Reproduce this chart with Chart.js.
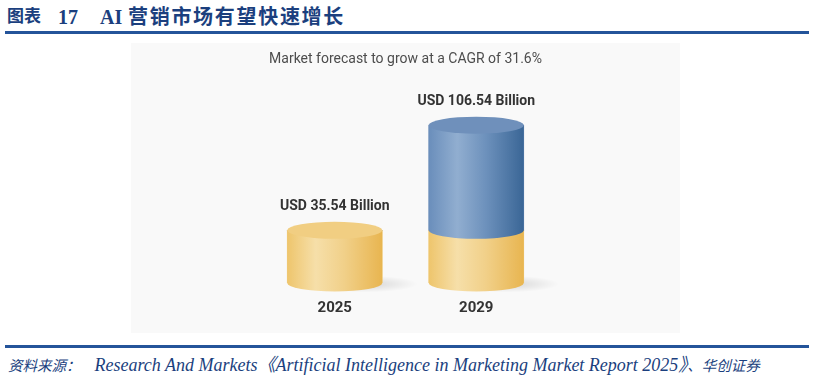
<!DOCTYPE html>
<html>
<head>
<meta charset="utf-8">
<title>AI营销市场有望快速增长</title>
<script src="https://cdn.jsdelivr.net/npm/chart.js@4.4.1/dist/chart.umd.min.js"></script>
<style>
  body {margin: 0; width: 814px; height: 379px; background: #fff; position: relative; overflow: hidden;}
  .head {position: absolute; top: 5px; font-family: "Liberation Serif", "Noto Sans CJK SC"; font-weight: bold; font-size: 20px; line-height: 24px; color: #1b3f7e; white-space: nowrap;}
  .rule {position: absolute; left: 5px; width: 804px; height: 3px; background: #24549a;}
  .panel {position: absolute; left: 131px; top: 43px; width: 549px; height: 290px; background: #f9f9f9;}
  #myChart {position: absolute; left: 131px; top: 43px;}
  .src {position: absolute; left: 8px; top: 353px; font-family: "Liberation Serif", "Noto Sans CJK SC"; font-style: italic; font-size: 18px; line-height: 24px; color: #1b3f7e; white-space: nowrap;}
  .src .cjk {font-size: 14.5px;}
</style>
</head>
<body>
  <div class="head" style="left:7px;font-size:17px">图表</div>
  <div class="head" style="left:58px">17</div>
  <div class="head" style="left:100px">AI</div>
  <div class="head" style="left:128px;letter-spacing:1.7px">营销市场有望快速增长</div>
  <div class="rule" style="top:31px"></div>
  <div class="panel"></div>
  <canvas id="myChart" width="549" height="290"></canvas>
  <div class="rule" style="top:345px"></div>
  <div class="src"><span class="cjk" style="margin-right:14px">资料来源：</span>Research And Markets《Artificial Intelligence in Marketing Market Report 2025》<span class="cjk">、华创证券</span></div>
<script>
const years = ['2025', '2029'];
const baseValues = [35.54, 35.54];      // 2025 market size, repeated as the lower part of 2029
const growthValues = [0, 71.00];        // added by 2029 (106.54 - 35.54)
const totalLabels = ['USD 35.54 Billion', 'USD 106.54 Billion'];

const yellow = {stops: ['#eec56c', '#f6dfa9', '#f1d089', '#e8b550'], top: '#f1ce82'};
const blue = {stops: ['#6a8ebb', '#91aed0', '#6d91bc', '#3a6696'], top: '#6f90bb'};
const RY = 8.5;

function bodyGradient(ctx, left, w, pal) {
  const g = ctx.createLinearGradient(left, 0, left + w, 0);
  g.addColorStop(0, pal.stops[0]);
  g.addColorStop(0.3, pal.stops[1]);
  g.addColorStop(0.6, pal.stops[2]);
  g.addColorStop(1, pal.stops[3]);
  return g;
}

const cylinders = {
  id: 'cylinders',
  beforeDatasetsDraw(chart) {
    const ctx = chart.ctx;
    const meta = chart.getDatasetMeta(0);
    meta.data.forEach(el => {
      const p = el.getProps(['x', 'base', 'width'], true);
      const cx = p.x + p.width * 0.32, cy = p.base + 1;
      ctx.save();
      ctx.translate(cx, cy);
      ctx.scale(1, 0.16);
      const g = ctx.createRadialGradient(0, 0, 0, 0, 0, p.width * 0.55);
      g.addColorStop(0, 'rgba(0,0,0,0.14)');
      g.addColorStop(1, 'rgba(0,0,0,0)');
      ctx.fillStyle = g;
      ctx.beginPath();
      ctx.arc(0, 0, p.width * 0.55, 0, Math.PI * 2);
      ctx.fill();
      ctx.restore();
    });
  },
  afterDatasetsDraw(chart) {
    const ctx = chart.ctx;
    const pals = [yellow, blue];
    const tops = [];
    chart.data.datasets.forEach((ds, di) => {
      const meta = chart.getDatasetMeta(di);
      meta.data.forEach((el, i) => {
        if (!ds.data[i]) return;
        const p = el.getProps(['x', 'y', 'base', 'width'], true);
        const w = p.width, left = p.x - w / 2;
        ctx.save();
        ctx.fillStyle = bodyGradient(ctx, left, w, pals[di]);
        ctx.beginPath();
        ctx.moveTo(left, p.y);
        ctx.lineTo(left, p.base);
        ctx.ellipse(p.x, p.base, w / 2, RY, 0, Math.PI, 0, true);
        ctx.lineTo(left + w, p.y);
        ctx.closePath();
        ctx.fill();
        ctx.restore();
        tops[i] = {x: p.x, y: p.y, w: w, pal: pals[di]};
      });
    });
    tops.forEach((t, i) => {
      ctx.save();
      ctx.fillStyle = t.pal.top;
      ctx.beginPath();
      ctx.ellipse(t.x, t.y, t.w / 2, RY, 0, 0, Math.PI * 2);
      ctx.fill();
      ctx.fillStyle = '#333333';
      ctx.font = 'bold 14px Roboto';
      ctx.textAlign = 'center';
      ctx.textBaseline = 'middle';
      ctx.fillText(totalLabels[i], t.x, t.y - RY - 15);
      ctx.restore();
    });
  }
};

const chart = new Chart(document.getElementById('myChart'), {
  type: 'bar',
  data: {
    labels: years,
    datasets: [
      {label: 'Base', data: baseValues, backgroundColor: yellow.top, barThickness: 95},
      {label: 'Growth', data: growthValues, backgroundColor: blue.top, barThickness: 95}
    ]
  },
  options: {
    responsive: false,
    animation: false,
    layout: {padding: {left: 133, right: 133, top: 0, bottom: 0}},
    plugins: {
      legend: {display: false},
      tooltip: {enabled: false},
      title: {
        display: true,
        text: 'Market forecast to grow at a CAGR of 31.6%',
        color: '#4d4d4d',
        font: {family: 'Roboto', size: 14, weight: 'normal'},
        padding: {top: 8, bottom: 30}
      }
    },
    scales: {
      x: {
        stacked: true,
        grid: {display: false, drawTicks: false},
        border: {display: false},
        ticks: {color: '#333333', padding: 16, font: {family: 'Roboto', size: 15, weight: 'bold'}}
      },
      y: {stacked: true, display: false, min: 0, max: 125}
    }
  },
  plugins: [cylinders]
});
</script>
</body>
</html>
